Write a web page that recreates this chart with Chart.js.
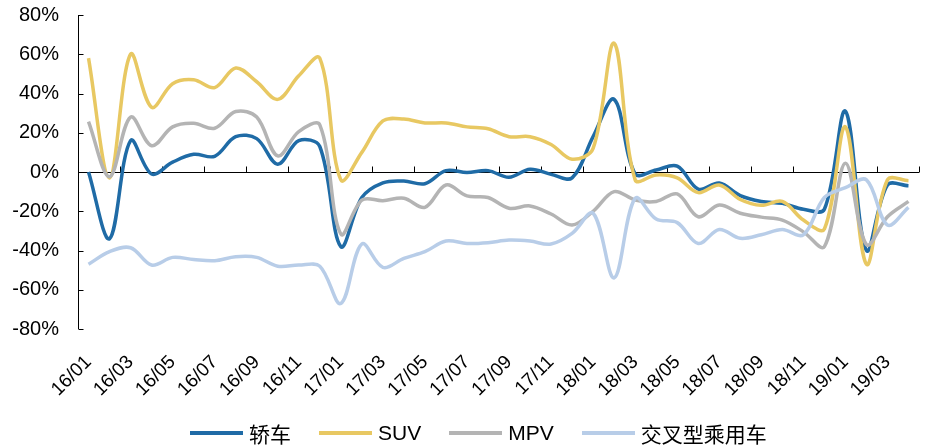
<!DOCTYPE html>
<html><head><meta charset="utf-8">
<script src="https://cdn.jsdelivr.net/npm/chart.js@4.4.1/dist/chart.umd.min.js"></script>
<style>
html,body{margin:0;padding:0;background:#fff;}
#wrap{position:relative;width:926px;height:448px;}
#c{display:block;}
#legend{position:absolute;left:190px;top:421px;height:24px;display:flex;align-items:center;font-family:'Liberation Sans','Noto Sans CJK SC',sans-serif;font-size:21px;color:#000;white-space:nowrap;}
.item{display:flex;align-items:center;margin-right:28px;}
.sw{width:53px;height:4px;margin-right:6px;}
</style></head>
<body><div id="wrap"><canvas id="c" width="926" height="448" style="width:926px;height:448px"></canvas><div id="legend"></div></div>
<script>
const categories = ['16/01','16/02','16/03','16/04','16/05','16/06','16/07','16/08','16/09','16/10','16/11','16/12',
  '17/01','17/02','17/03','17/04','17/05','17/06','17/07','17/08','17/09','17/10','17/11','17/12',
  '18/01','18/02','18/03','18/04','18/05','18/06','18/07','18/08','18/09','18/10','18/11','18/12',
  '19/01','19/02','19/03','19/04'];
const seriesNames = ['轿车','SUV','MPV','交叉型乘用车'];
const seriesColors = ['#1F6BA6','#E8C862','#B4B4B4','#B8CDE8'];
const sedan = [0,-34,16,-1,5,9,8,18,17,4,16,13,-38,-13,-5.5,-4.6,-6,0.7,-0.3,0.7,-2.7,1.4,-1.2,-3,18,37,-1,1,3,-8.7,-5.6,-12,-15,-16,-19,-19,31,-40,-6.6,-7];
const suv = [58,-3,60,33,45,47,43,53,46,37,49,58,-4,10,26,27,25,25,23,22,18,18,14,6.5,12,65.6,-4,-1.5,-3,-10.5,-6.6,-14,-17,-15,-24.5,-29,23,-47,-4,-4.4];
const mpv = [25.7,-2.4,28,13.4,23,24.8,22.3,30.8,28,8.2,20.6,24,-31.6,-14.3,-14.6,-13.4,-18,-6.6,-12.2,-13,-18.5,-17.3,-21.4,-27,-20,-10,-14.3,-15,-11.2,-22.8,-16.8,-21,-23,-24.5,-30.5,-38,4.4,-37,-22.8,-15];
const crossover = [-47,-40.6,-38.6,-47.4,-43.5,-44.6,-45.2,-43.2,-43.5,-48,-47.4,-48,-67,-36.7,-48.6,-44,-40.6,-35.2,-36.4,-36,-34.7,-35.2,-36.7,-31.3,-21,-54,-13.4,-24,-25.8,-36.4,-29.3,-33.8,-32,-29.3,-32,-13,-8,-4,-27,-18];
const yTicks = [-80,-60,-40,-20,0,20,40,60,80];

const allSeries = [sedan, suv, mpv, crossover];

const axisPlugin = {
  id: 'excelAxes',
  beforeDatasetsDraw(chart) {
    const {ctx, chartArea: a, scales: {x, y}} = chart;
    ctx.save();
    ctx.strokeStyle = '#000';
    ctx.lineWidth = 1;
    ctx.beginPath();
    const lx = Math.round(a.left) + 0.5;
    ctx.moveTo(lx, y.getPixelForValue(yTicks[yTicks.length-1]));
    ctx.lineTo(lx, y.getPixelForValue(yTicks[0]));
    yTicks.forEach(v => {
      const py = Math.round(y.getPixelForValue(v)) + 0.5;
      ctx.moveTo(lx, py); ctx.lineTo(lx + 5, py);
    });
    const zy = Math.round(y.getPixelForValue(0)) + 0.5;
    ctx.moveTo(a.left, zy); ctx.lineTo(a.right, zy);
    for (let i = 2; i <= categories.length; i += 2) {
      const px = i < categories.length ? (x.getPixelForValue(i - 1) + x.getPixelForValue(i)) / 2 : a.right;
      const rx = Math.round(px) + 0.5;
      ctx.moveTo(rx, zy); ctx.lineTo(rx, zy - 6);
    }
    ctx.stroke();
    ctx.restore();
  }
};

Chart.defaults.font.family = "'Liberation Sans', Arial, sans-serif";
Chart.defaults.color = '#000';

new Chart(document.getElementById('c'), {
  type: 'line',
  data: {
    labels: categories,
    datasets: allSeries.map((d, i) => ({
      label: seriesNames[i],
      data: d,
      borderColor: seriesColors[i],
      backgroundColor: seriesColors[i],
      borderWidth: 3.5,
      pointRadius: 0,
      tension: 0.35,
      fill: false,
      order: allSeries.length - i
    }))
  },
  options: {
    responsive: false,
    animation: false,
    layout: {padding: {left: 0, right: 7, top: 15, bottom: 49}},
    plugins: {legend: {display: false}, tooltip: {enabled: false}},
    scales: {
      x: {
        type: 'category',
        offset: true,
        grid: {display: false, drawTicks: false},
        border: {display: false},
        ticks: {
          autoSkip: false,
          minRotation: 45,
          maxRotation: 45,
          padding: 22,
          font: {size: 19},
          color: '#000',
          callback: (v, idx) => idx % 2 === 0 ? categories[idx] : ''
        },
        afterFit: s => { s.height = 70; s.paddingLeft = 0; s.paddingRight = 0; }
      },
      y: {
        min: yTicks[0],
        max: yTicks[yTicks.length - 1],
        grid: {display: false, drawTicks: false},
        border: {display: false},
        ticks: {
          stepSize: 20,
          padding: 19,
          font: {size: 20},
          color: '#000',
          callback: v => v + '%'
        },
        afterFit: s => { s.width = 78; s.paddingTop = 0; s.paddingBottom = 0; }
      }
    }
  },
  plugins: [axisPlugin]
});

const lg = document.getElementById('legend');
seriesNames.forEach((n, i) => {
  const it = document.createElement('div');
  it.className = 'item';
  const sw = document.createElement('div');
  sw.className = 'sw';
  sw.style.background = seriesColors[i];
  const tx = document.createElement('span');
  tx.textContent = n;
  it.appendChild(sw); it.appendChild(tx);
  lg.appendChild(it);
});
</script>
</body></html>
